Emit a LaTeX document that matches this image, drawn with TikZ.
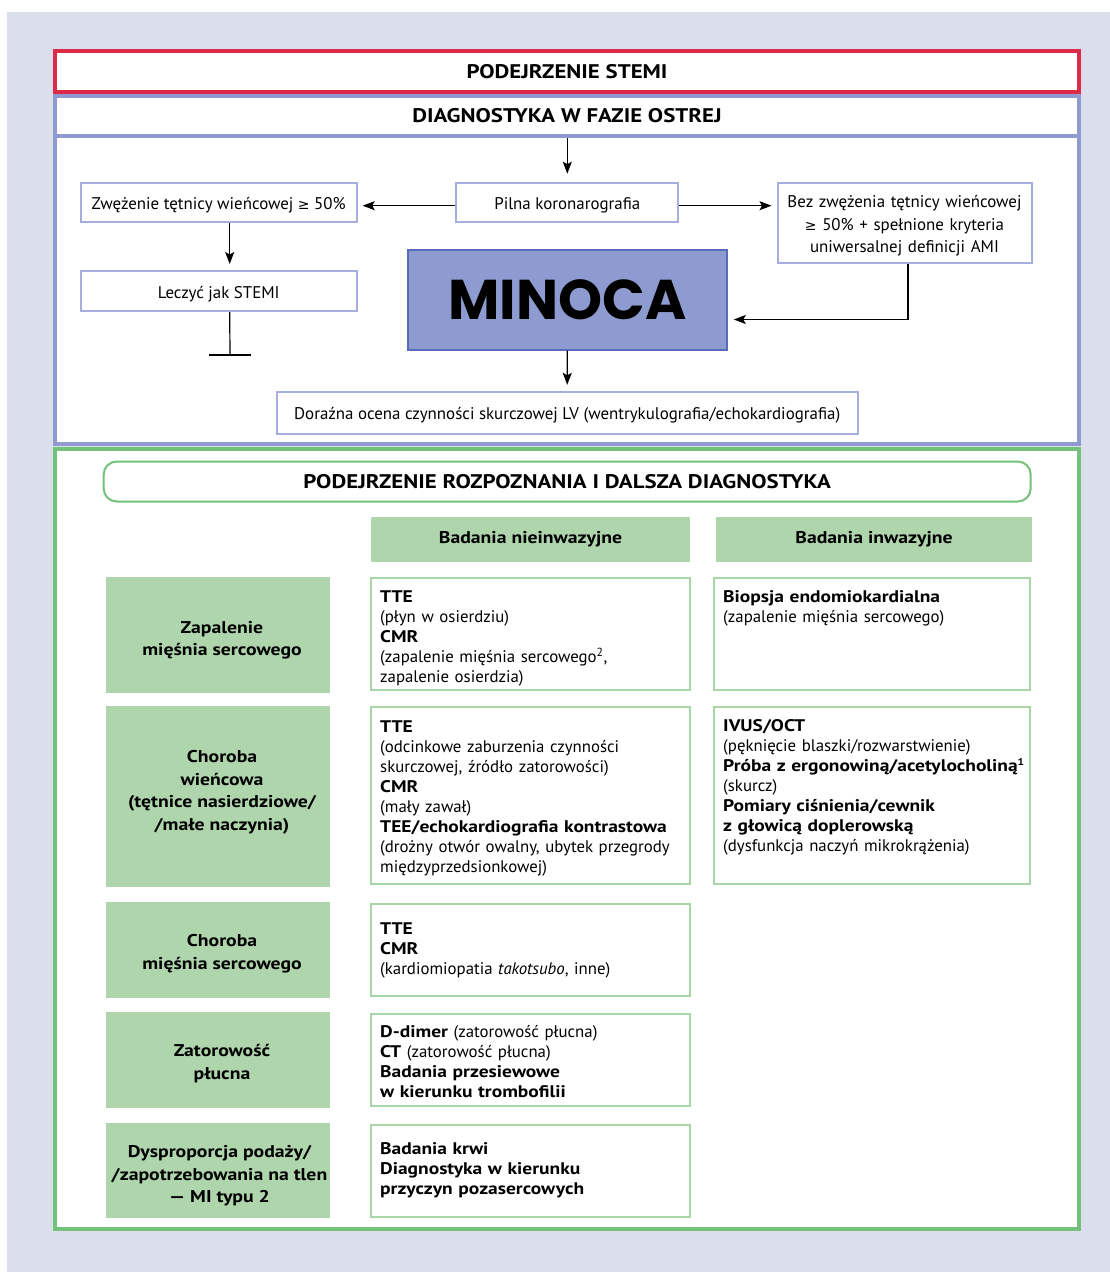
\documentclass[tikz,border=0pt]{standalone}
\usepackage{fontspec}
\setmainfont{PT Sans}[BoldFeatures={FakeStretch=1.16}]
\newfontfamily\symf{DejaVu Sans}
\newfontfamily\minocafont{Poppins}
\usetikzlibrary{arrows.meta}
\definecolor{bglav}{HTML}{DBDFEC}
\definecolor{stemired}{HTML}{DD2A4B}
\definecolor{frameblue}{HTML}{9099D0}
\definecolor{boxblue}{HTML}{A7AEDD}
\definecolor{minofill}{HTML}{8E9BD0}
\definecolor{minoedge}{HTML}{5A6BB8}
\definecolor{framegreen}{HTML}{74C17B}
\definecolor{gfill}{HTML}{AFD5AC}
\definecolor{gthin}{HTML}{A9D6A6}
\begin{document}
\begin{tikzpicture}[x=1pt,y=-1pt,
  arr/.style={line width=1.2pt,-{Stealth[length=12pt,width=9pt,inset=2.5pt]}},
  bbox/.style={draw=boxblue,line width=2pt,fill=white,inner sep=0pt,align=center,text height=18pt,font=\fontsize{16.9}{22.5}\selectfont},
  hdr/.style={inner sep=0pt,font=\bfseries\fontsize{19.7}{22}\selectfont},
  glabel/.style={fill=gfill,inner sep=0pt,minimum width=224.5pt},
  gltext/.style={inner sep=0pt,align=center,font=\bfseries\fontsize{17}{22.5}\selectfont},
  colhdr/.style={fill=gfill,inner sep=0pt,minimum height=44.7pt,font=\bfseries\fontsize{17}{22}\selectfont},
  gbox/.style={draw=gthin,line width=2pt,fill=white,inner sep=0pt},
  midbox/.style={gbox,minimum width=319pt,text width=300pt,align=left,font=\fontsize{16.8}{20}\selectfont},
  rtext/.style={inner sep=0pt,anchor=north west,text width=310pt,align=left,font=\fontsize{16.8}{20}\selectfont}
]
\useasboundingbox (0,0) rectangle (1110,1272);
\fill[white] (0,0) rectangle (1110,1272);
\fill[bglav] (7,12) rectangle (1110,1272);

% ---- red header
\node[draw=stemired,line width=4pt,fill=white,minimum width=1024pt,minimum height=40.5pt,hdr] (stemi) at (567,71.5) {PODEJRZENIE STEMI};

% ---- blue section
\fill[white] (55,96) rectangle (1079,444);
\draw[frameblue,line width=4pt] (55,96) rectangle (1079,444);
\draw[frameblue,line width=4pt] (55,136) -- (1079,136);
\node[hdr] (diag) at (567,116) {DIAGNOSTYKA W FAZIE OSTREJ};
\coordinate (sep) at (567.3,138);

\node[bbox,minimum width=222pt,minimum height=39pt] (pil) at (567.3,202.2) {Pilna koronarografia};
\node[bbox,minimum width=276pt,minimum height=39pt] (zw) at (218.7,202.2) {Zwężenie tętnicy wieńcowej {\symf\fontsize{14}{14}\selectfont ≥} 50\%};
\node[bbox,text width=250pt,text height=18.5pt,minimum width=254pt,minimum height=80pt] (bez) at (904.5,222.8) {Bez zwężenia tętnicy wieńcowej\\{\symf\fontsize{14}{14}\selectfont ≥} 50\% + spełnione kryteria\\uniwersalnej definicji AMI};
\node[bbox,minimum width=276pt,minimum height=40pt] (lec) at (218.7,291) {Leczyć jak STEMI};
\node[draw=minoedge,fill=minofill,line width=2pt,minimum width=319pt,minimum height=100pt,inner sep=0pt,font=\minocafont\bfseries\fontsize{56}{60}\selectfont] (mino) at (567.3,299.5) {MINOCA};
\node[bbox,minimum width=581pt,minimum height=42pt] (dor) at (567.2,412.8) {Doraźna ocena czynności skurczowej LV (wentrykulografia/echokardiografia)};
\coordinate (tb) at (230,355);

\draw[arr,shorten >=8pt] (sep) -- (pil.north);
\draw[arr,shorten >=5pt] ([yshift=-3.5pt]pil.west) -- ([yshift=-3.5pt]pil.west -| zw.east);
\draw[arr,shorten >=5pt] ([yshift=-3.5pt]pil.east) -- ([yshift=-3.5pt]pil.east -| bez.west);
\draw[arr,shorten >=6pt] ([xshift=11pt]zw.south) -- ([xshift=11pt]lec.north);
\draw[line width=1.2pt] ([xshift=11pt]lec.south) -- (tb);
\draw[line width=1.2pt] ([xshift=-21pt]tb) -- ([xshift=21pt]tb);
\draw[arr,shorten >=6pt] ([xshift=3.5pt]bez.south) |- ([yshift=-20pt]mino.east);
\draw[arr,shorten >=6pt] (mino.south) -- (dor.north);

% ---- green section
\fill[white] (55,449) rectangle (1079,1228.7);
\draw[framegreen,line width=4pt] (55,449) rectangle (1079,1228.7);
\node[draw=framegreen,line width=2pt,rounded corners=13pt,minimum width=927pt,minimum height=40pt,hdr] (pod) at (567.2,481.5) {PODEJRZENIE ROZPOZNANIA I DALSZA DIAGNOSTYKA};
\node[colhdr,minimum width=319pt] (nie) at (530.5,539.3) {Badania nieinwazyjne};
\node[colhdr,minimum width=316pt] (inw) at (874,539.3) {Badania inwazyjne};

\node[glabel,minimum height=115.4pt] (l1) at (218,635) {};
\node[glabel,minimum height=181pt] (l2) at (218,796.5) {};
\node[glabel,minimum height=95.4pt] (l3) at (218,950) {};
\node[glabel,minimum height=95.4pt] (l4) at (218,1060) {};
\node[glabel,minimum height=95pt] (l5) at (218,1170.8) {};
\node[gltext] (l1t) at ([xshift=4pt,yshift=-5pt]l1.center) {Zapalenie\\mięśnia sercowego};
\node[gltext] (l2t) at ([xshift=4pt,yshift=4pt]l2.center) {Choroba\\wieńcowa\\(tętnice nasierdziowe/\\/małe naczynia)};
\node[gltext] (l3t) at ([xshift=4pt,yshift=-3.5pt]l3.center) {Choroba\\mięśnia sercowego};
\node[gltext] (l4t) at ([xshift=4pt,yshift=-3.5pt]l4.center) {Zatorowość\\płucna};
\node[gltext] (l5t) at ([xshift=1.5pt,yshift=-5pt]l5.center) {Dysproporcja podaży/\\/zapotrzebowania na tlen\\— MI typu 2};

\node[midbox,minimum height=112pt,text height=22pt] (m1) at (530.2,633.8) {\textbf{TTE}\\(płyn w osierdziu)\\\textbf{CMR}\\(zapalenie mięśnia sercowego\textsuperscript{2},\\zapalenie osierdzia)};
\node[midbox,minimum height=177pt,text height=18pt] (m2) at (530.2,795.5) {\textbf{TTE}\\(odcinkowe zaburzenia czynności\\skurczowej, źródło zatorowości)\\\textbf{CMR}\\(mały zawał)\\\textbf{TEE/echokardiografia kontrastowa}\\(drożny otwór owalny, ubytek przegrody\\międzyprzedsionkowej)};
\node[midbox,minimum height=92pt,text height=14pt] (m3) at (530.2,949.7) {\textbf{TTE}\\\textbf{CMR}\\(kardiomiopatia \textit{takotsubo}, inne)};
\node[midbox,minimum height=92pt,text height=16pt] (m4) at (530.2,1060) {\textbf{D-dimer} (zatorowość płucna)\\\textbf{CT} (zatorowość płucna)\\\textbf{Badania przesiewowe}\\\textbf{w kierunku trombofilii}};
\node[midbox,minimum height=92pt] (m5) at (530.2,1170.7) {\textbf{Badania krwi}\\\textbf{Diagnostyka w kierunku}\\\textbf{przyczyn pozasercowych}};

\node[gbox,minimum width=316pt,minimum height=112pt] (r1) at (871.5,633.8) {};
\node[gbox,minimum width=316pt,minimum height=177pt] (r2) at (871.5,795.5) {};
\node[rtext] (r1t) at ([xshift=10.5pt,yshift=-11pt]r1.north west) {\strut\textbf{Biopsja endomiokardialna}\\(zapalenie mięśnia sercowego)};
\node[rtext] (r2t) at ([xshift=10.5pt,yshift=-11pt]r2.north west) {\strut\textbf{IVUS/OCT}\\(pęknięcie blaszki/rozwarstwienie)\\\textbf{Próba z ergonowiną/acetylocholiną{\fontsize{14}{14}\selectfont\textsuperscript{1}}}\\(skurcz)\\\textbf{Pomiary ciśnienia/cewnik}\\\textbf{z głowicą doplerowską}\\(dysfunkcja naczyń mikrokrążenia)};
\end{tikzpicture}
\end{document}
